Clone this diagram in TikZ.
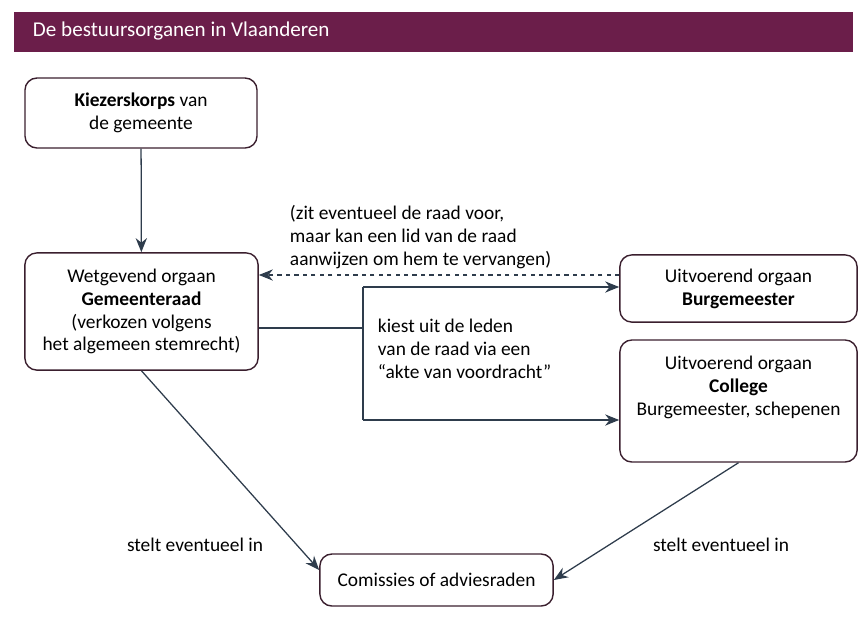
\documentclass[tikz,border=0pt]{standalone}
\usepackage{fontspec}
\setmainfont{Carlito}
\usetikzlibrary{arrows.meta}
\definecolor{barpurple}{HTML}{6B1E4A}
\definecolor{linegrey}{HTML}{2E3C4C}
\definecolor{boxline}{HTML}{3A1F2E}
\tikzset{
  organ/.style={rectangle, rounded corners=0.3cm, draw=boxline, line width=1pt, align=center, font=\fontsize{13.8}{16.3}\selectfont},
  remark/.style={align=left, font=\fontsize{13.8}{16.3}\selectfont},
  link/.style={draw=linegrey, line width=0.9pt, -{Stealth[length=10pt,width=8pt]}}
}

\begin{document}
\begin{tikzpicture}[x=0.025cm, y=-0.025cm]
\useasboundingbox (0,0) rectangle (860,627);
\fill[barpurple] (14,12) rectangle (853,52);
\node[anchor=west, text=white, font=\fontsize{15}{17}\selectfont] (title) at (28,31) {De bestuursorganen in Vlaanderen};

\node[organ, minimum width=5.8cm, minimum height=1.75cm] (kiez) at (141,113) {\textbf{Kiezerskorps} van\\ de gemeente};
\node[organ, minimum width=5.83cm, minimum height=2.93cm] (gem) at (141.5,311.5) {Wetgevend orgaan\\ \textbf{Gemeenteraad}\\ (verkozen volgens\\ het algemeen stemrecht)};
\node[organ, minimum width=5.93cm, minimum height=1.68cm] (burg) at (738.5,288.5) {Uitvoerend orgaan\\ \textbf{Burgemeester}};
\node[organ, minimum width=5.93cm, minimum height=3.05cm] (coll) at (738.5,401) {Uitvoerend orgaan\\ \textbf{College}\\ Burgemeester, schepenen\\ \strut};
\node[organ, minimum width=5.83cm, minimum height=1.3cm] (comm) at (436.5,580) {Comissies of adviesraden};

\node[remark, anchor=north west] (voorzit) at (285,200) {(zit eventueel de raad voor,\\ maar kan een lid van de raad\\ aanwijzen om hem te vervangen)};
\node[remark, anchor=north west] (kiest) at (373,314) {kiest uit de leden\\ van de raad via een\\ ``akte van voordracht''};
\node[remark] (instelL) at (195,545) {stelt eventueel in};
\node[remark] (instelR) at (721,545) {stelt eventueel in};

\coordinate (dash) at (440,275);
\coordinate (fork) at (363,328);
\coordinate (forktop) at (363,287);
\coordinate (forkbot) at (363,420);

\draw[link] (kiez) -- (gem);
\draw[link, dashed] (burg.west |- dash) -- (gem.east |- dash);
\draw[draw=linegrey, line width=0.9pt] (gem.east |- fork) -- (fork);
\draw[draw=linegrey, line width=0.9pt] (forktop) -- (forkbot);
\draw[link] (forktop) -- (forktop -| burg.west);
\draw[link] (forkbot) -- (forkbot -| coll.west);
\draw[link] (gem.south) -- ([yshift=0.25cm]comm.west);
\draw[link] (coll.south) -- (comm.east);
\end{tikzpicture}
\end{document}
